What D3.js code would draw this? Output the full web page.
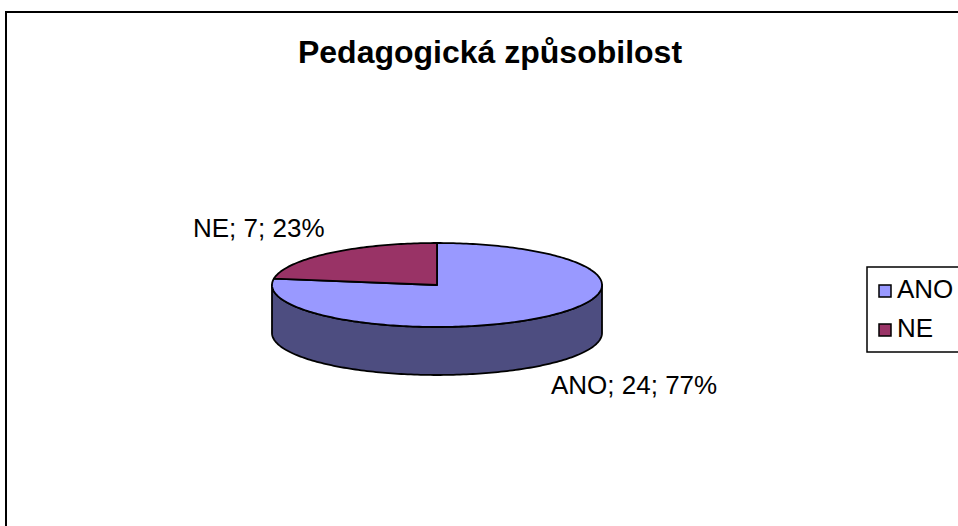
<!DOCTYPE html>
<html><head><meta charset="utf-8">
<script src="https://cdn.jsdelivr.net/npm/d3@7"></script>
<style>body{margin:0;background:#fff}svg{display:block}text{font-family:"Liberation Sans",Arial,sans-serif}</style>
</head><body>
<script>
const categories = ["ANO", "NE"];
const values = [24, 7];
const percents = ["77%", "23%"];
const topColors = ["#9999FF", "#993366"];
const sideColors = ["#4D4D80", "#4D1A33"];
const title = "Pedagogická způsobilost";

const W = 958, H = 526;
const svg = d3.select("body").append("svg").attr("width", W).attr("height", H);
svg.append("rect").attr("width", W).attr("height", H).attr("fill", "#fff");
// outer frame
svg.append("rect").attr("x", 6).attr("y", 12).attr("width", W + 20).attr("height", H + 20)
  .attr("fill", "none").attr("stroke", "#000").attr("stroke-width", 2);

svg.append("text").attr("x", 490).attr("y", 63).attr("text-anchor", "middle")
  .attr("font-size", 32).attr("font-weight", "bold").text(title);

const cx = 437, cy = 285, rx = 165, ry = 42, depth = 48;
const pie = d3.pie().sort(null).value(d => d)(values);
const pt = (a, dy = 0) => [cx + rx * Math.sin(a), cy - ry * Math.cos(a) + dy];

function arcPts(a0, a1, dy) {
  const n = Math.max(2, Math.ceil(Math.abs(a1 - a0) / 0.02));
  const out = [];
  for (let i = 0; i <= n; i++) out.push(pt(a0 + (a1 - a0) * i / n, dy));
  return out;
}
const line = d3.line();

// side walls (front half: angles PI/2..3PI/2)
pie.forEach((s, i) => {
  const a0 = Math.max(s.startAngle, Math.PI / 2), a1 = Math.min(s.endAngle, 3 * Math.PI / 2);
  if (a1 <= a0) return;
  const top = arcPts(a0, a1, 0), bot = arcPts(a1, a0, depth);
  svg.append("path").attr("d", line(top.concat(bot)) + "Z")
    .attr("fill", sideColors[i]).attr("stroke", "#000").attr("stroke-width", 1.8).attr("stroke-linejoin", "round");
});
// top faces
pie.forEach((s, i) => {
  const pts = [[cx, cy]].concat(arcPts(s.startAngle, s.endAngle, 0));
  svg.append("path").attr("d", line(pts) + "Z")
    .attr("fill", topColors[i]).attr("stroke", "#000").attr("stroke-width", 1.8).attr("stroke-linejoin", "round");
});

// data labels
svg.append("text").attr("x", 193).attr("y", 237).attr("font-size", 26)
  .text(`${categories[1]}; ${values[1]}; ${percents[1]}`);
svg.append("text").attr("x", 551).attr("y", 394).attr("font-size", 26)
  .text(`${categories[0]}; ${values[0]}; ${percents[0]}`);

// legend
svg.append("rect").attr("x", 867).attr("y", 267).attr("width", 120).attr("height", 85)
  .attr("fill", "#fff").attr("stroke", "#000").attr("stroke-width", 1.5);
categories.forEach((c, i) => {
  const y = 285 + i * 39;
  svg.append("rect").attr("x", 879).attr("y", y).attr("width", 12).attr("height", 12)
    .attr("fill", topColors[i]).attr("stroke", "#000").attr("stroke-width", 1.5);
  svg.append("text").attr("x", 897).attr("y", y + 13).attr("font-size", 26).text(c);
});
</script>
</body></html>
